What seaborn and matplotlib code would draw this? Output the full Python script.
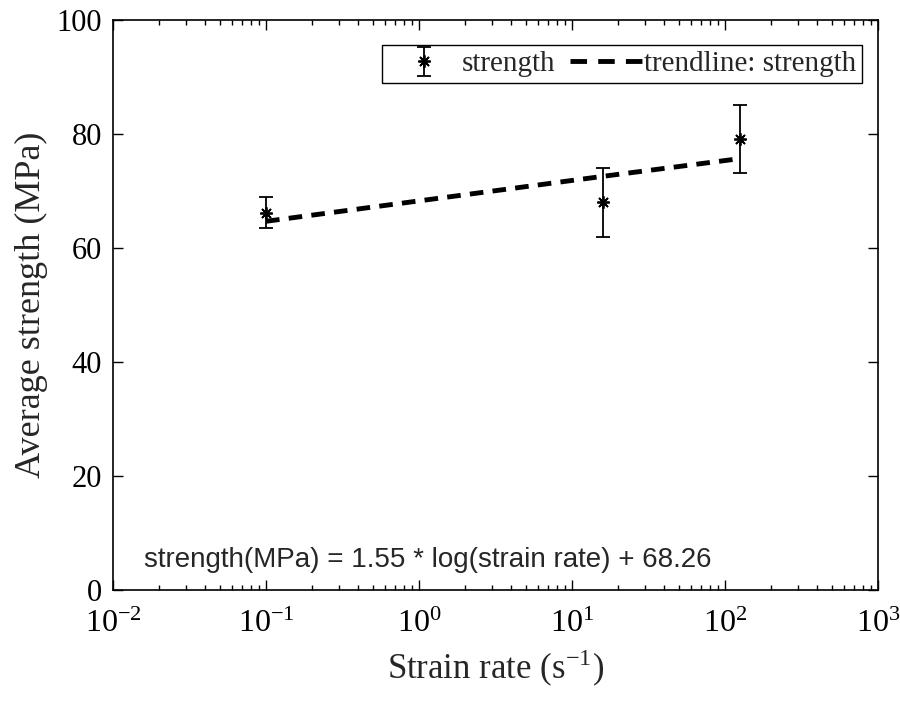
import numpy as np
import pandas as pd
import matplotlib
matplotlib.use("Agg")
import matplotlib.pyplot as plt
import seaborn as sns
from matplotlib.lines import Line2D

# data
strain_rate = [0.1, 16, 125]
strength = [66.2, 68.0, 79.1]
strength_err = [2.75, 6.1, 6.0]
trend_values = [64.7, 72.6, 75.7]
x_ticks = [1e-2, 1e-1, 1e0, 1e1, 1e2, 1e3]
x_exponents = [-2, -1, 0, 1, 2, 3]
y_ticks = [0, 20, 40, 60, 80, 100]
equation = "strength(MPa) = 1.55 * log(strain rate) + 68.26"

sns.set_theme(style="ticks")
plt.rcParams["font.family"] = ["Liberation Serif", "DejaVu Serif"]
plt.rcParams["mathtext.fontset"] = "stix"

fig = plt.figure(figsize=(9, 7.07), dpi=100)
ax = fig.add_axes([0.1256, 0.1655, 0.85, 0.806])

df_trend = pd.DataFrame({"x": strain_rate, "y": trend_values})
sns.lineplot(data=df_trend, x="x", y="y", ax=ax, color="black", lw=3.5,
             linestyle=(0, (2.8, 1.9)), zorder=3)

ax.errorbar(strain_rate, strength, yerr=strength_err, fmt="none", ecolor="black",
            elinewidth=1.3, capsize=5, capthick=1.3, zorder=4)
ax.plot(strain_rate, strength, linestyle="none", marker=(8, 2, 0), markersize=9,
        markeredgewidth=1.3, color="black", zorder=5)

# legend handles
eb = ax.errorbar([np.nan], [np.nan], yerr=[1], fmt="none", ecolor="black",
                 elinewidth=1.3, capsize=5, capthick=1.3)
star = Line2D([], [], linestyle="none", marker=(8, 2, 0), markersize=9,
              markeredgewidth=1.3, color="black")
trend_handle = Line2D([], [], color="black", lw=3.5, linestyle=(0, (3.4, 2.3)))

ax.set_xscale("log")
ax.set_xlim(1e-2, 1e3)
ax.set_ylim(0, 100)
ax.set_xticks(x_ticks)
ax.set_yticks(y_ticks)
ax.set_xticklabels([r"$\mathregular{10^{%d}}$" % e for e in x_exponents])

ax.tick_params(axis="both", which="both", direction="in", top=True, right=True,
               width=1, colors="black")
ax.tick_params(axis="y", labelsize=22)
ax.tick_params(axis="x", labelsize=23)
ax.tick_params(which="major", length=7)
ax.tick_params(axis="x", which="major", pad=14)
ax.tick_params(axis="y", which="major", pad=8)
ax.tick_params(which="minor", length=3.5)
for s in ax.spines.values():
    s.set_linewidth(1.2)
    s.set_color("black")

ax.set_xlabel(r"Strain rate (s$^{\mathregular{-1}}$)", fontsize=25, labelpad=6)
ax.set_ylabel("Average strength (MPa)", fontsize=26, labelpad=6)

ax.text(0.04, 0.03, equation, transform=ax.transAxes, fontsize=20,
        family=["Liberation Sans Narrow", "Liberation Sans", "DejaVu Sans"],
        ha="left", va="bottom")

leg = ax.legend([(eb, star), trend_handle], ["strength", "trendline: strength"],
                loc="upper right", bbox_to_anchor=(0.979, 0.956), fontsize=21,
                frameon=True, fancybox=False, edgecolor="black", framealpha=1,
                handlelength=2.47, handletextpad=0.07, columnspacing=0.5,
                ncol=2, borderpad=0.2, borderaxespad=0)
leg.get_frame().set_linewidth(1.0)

fig.savefig("out.png", dpi=100, facecolor="white")
